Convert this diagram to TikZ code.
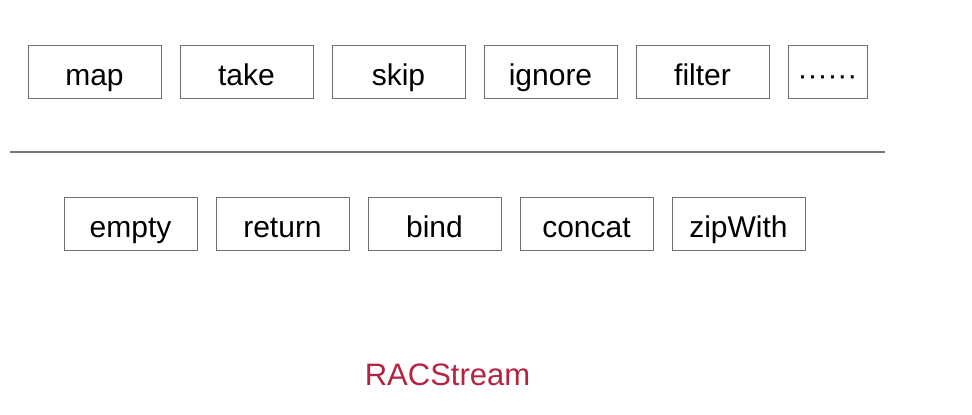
\documentclass[tikz,border=0pt]{standalone}
\usepackage{fontspec}
\setmainfont{Liberation Sans}
\definecolor{boxgray}{RGB}{110,110,110}
\definecolor{linegray}{RGB}{120,120,120}
\definecolor{raccol}{RGB}{180,36,64}
\begin{document}
\begin{tikzpicture}[x=1pt,y=-1pt,
  opbox/.style={draw=boxgray,line width=1pt,minimum width=133pt,minimum height=53pt,inner sep=0pt,text height=30pt,text depth=3pt,font=\fontsize{30}{30}\selectfont,text=black,anchor=center},
  smallbox/.style={opbox,minimum width=79pt},
  sep/.style={draw=linegray,line width=1.3pt}]
\useasboundingbox (0,0) rectangle (972,415);
\node[opbox] (map) at (94.5,71.5) {map};
\node[opbox] (take) at (246.5,71.5) {take};
\node[opbox] (skip) at (398.5,71.5) {skip};
\node[opbox] (ignore) at (550.5,71.5) {ignore};
\node[opbox] (filter) at (702.5,71.5) {filter};
\node[smallbox] (more) at (827.5,71.5) {······};
\coordinate (l1) at (10,152);
\coordinate (l2) at (885,152);
\draw[sep] (l1) -- (l2);
\node[opbox] (empty) at (130.5,223.5) {empty};
\node[opbox] (return) at (282.5,223.5) {return};
\node[opbox] (bind) at (434.5,223.5) {bind};
\node[opbox] (concat) at (586.5,223.5) {concat};
\node[opbox] (zipWith) at (738.5,223.5) {zipWith};
\node[font=\fontsize{31}{31}\selectfont,text=raccol,anchor=base,inner sep=0pt] (rac) at (447.5,385) {RACStream};
\end{tikzpicture}
\end{document}
